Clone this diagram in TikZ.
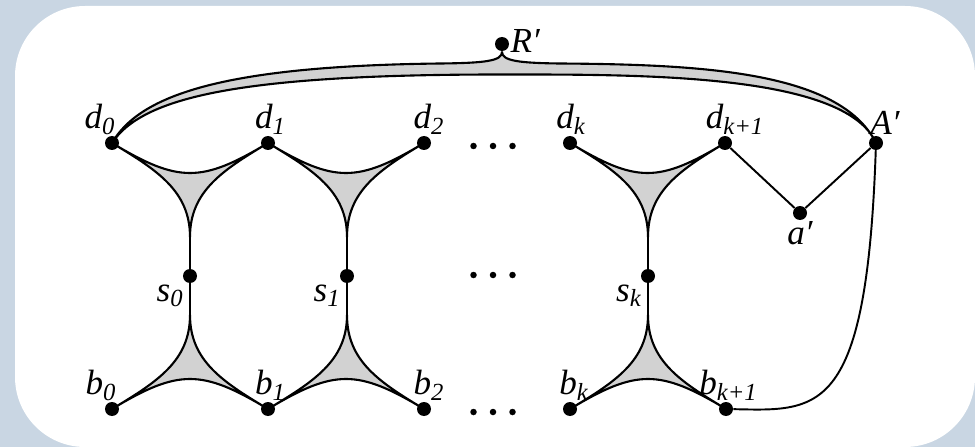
\documentclass[tikz,border=0pt]{standalone}
\usepackage{fontspec}
\setmainfont{Liberation Serif}
\usetikzlibrary{calc,backgrounds}

\definecolor{panelbg}{RGB}{201,214,227}

\begin{document}
\begin{tikzpicture}[dot/.style={circle, fill, inner sep=0pt, minimum size=0.28cm},
    lab/.style={font=\fontsize{20}{22}\selectfont\itshape, inner sep=0.5pt},
    hyp/.style={draw, fill=gray!35, line width=1.2pt, line join=round},
    edge/.style={line width=1.1pt}]
  \useasboundingbox (0,0) rectangle (19.5,8.94);

  % vertices
  \node[dot, label={[lab, xshift=-0.24cm]above:d\textsubscript{0}}] (d0) at (2.24,6.08) {};
  \node[dot, label={[lab, xshift=0.05cm]above:d\textsubscript{1}}] (d1) at (5.36,6.08) {};
  \node[dot, label={[lab, xshift=0.1cm]above:d\textsubscript{2}}] (d2) at (8.48,6.08) {};
  \node[dot, label={[lab, xshift=0.02cm]above:d\textsubscript{k}}] (dk) at (11.40,6.08) {};
  \node[dot, label={[lab, xshift=0.2cm]above:d\textsubscript{k+1}}] (dk1) at (14.50,6.08) {};
  \node[dot, label={[lab, xshift=0.18cm]above:A′}] (A) at (17.52,6.08) {};
  \node[dot, label={[lab]below:a′}] (a) at (16.00,4.68) {};
  \node[dot, label={[lab, yshift=0.06cm]right:R′}] (R) at (10.04,8.06) {};
  \node[dot, label={[lab, yshift=-0.05cm]below left:s\textsubscript{0}}] (s0) at (3.80,3.42) {};
  \node[dot, label={[lab, yshift=-0.05cm]below left:s\textsubscript{1}}] (s1) at (6.94,3.42) {};
  \node[dot, label={[lab, yshift=-0.05cm]below left:s\textsubscript{k}}] (sk) at (12.96,3.42) {};
  \node[dot, label={[lab, xshift=-0.22cm]above:b\textsubscript{0}}] (b0) at (2.24,0.76) {};
  \node[dot, label={[lab, xshift=0.05cm]above:b\textsubscript{1}}] (b1) at (5.36,0.76) {};
  \node[dot, label={[lab, xshift=0.1cm]above:b\textsubscript{2}}] (b2) at (8.48,0.76) {};
  \node[dot, label={[lab, xshift=0.08cm]above:b\textsubscript{k}}] (bk) at (11.40,0.76) {};
  \node[dot, label={[lab, xshift=0.05cm]above:b\textsubscript{k+1}}] (bk1) at (14.52,0.76) {};
  \coordinate (Rfoot) at (10.04,7.9);

  \begin{scope}[on background layer]
    \fill[panelbg] (0,0) rectangle (19.5,8.94);
    \fill[white, rounded corners=1.4cm] (0.3,0) rectangle (19.5,8.82);

    % hyperedges d_i d_{i+1} s_i and b_i b_{i+1} s_i
    \foreach \l/\r/\s/\sg in {d0/d1/s0/1, d1/d2/s1/1, dk/dk1/sk/1,
                              b0/b1/s0/-1, b1/b2/s1/-1, bk/bk1/sk/-1} {
      \path[hyp] (\l.center) .. controls ($(\l)+(1.33,{-0.8*\sg})$) and ($(\r)+(-1.33,{-0.8*\sg})$)
        .. (\r.center) .. controls ($(\r)+(-0.9,{-0.54*\sg})$) and ($(\s)+(0,{1.7*\sg})$)
        .. ($(\s)+(0,{0.78*\sg})$) .. controls ($(\s)+(0,{1.7*\sg})$) and ($(\l)+(0.9,{-0.54*\sg})$)
        .. cycle;
      \draw[edge] ($(\s)+(0,{0.78*\sg})$) -- (\s);
    }

    % hyperedge d_0 R' A'
    \path[hyp] (d0.center) .. controls (2.8,7.05) and (4.5,7.62) .. (8.8,7.67)
      .. controls (9.7,7.68) and (10.04,7.72) .. (Rfoot)
      .. controls (10.04,7.72) and (10.4,7.68) .. (11.2,7.67)
      .. controls (14,7.65) and (16.8,7.52) .. (A.center)
      .. controls (16.9,7.48) and (12.8,7.45) .. (10,7.45)
      .. controls (4.8,7.45) and (2.85,7.0) .. cycle;

    \draw[edge] (dk1) -- (a) -- (A);
    \draw[edge] (A.center) .. controls (17.35,0.6) and (16.4,0.72) .. (bk1);
  \end{scope}

  \foreach \y in {6.02,3.44,0.70}
    \foreach \x in {9.47,9.86,10.25}
      \fill (\x,\y) circle (0.065);
\end{tikzpicture}
\end{document}
